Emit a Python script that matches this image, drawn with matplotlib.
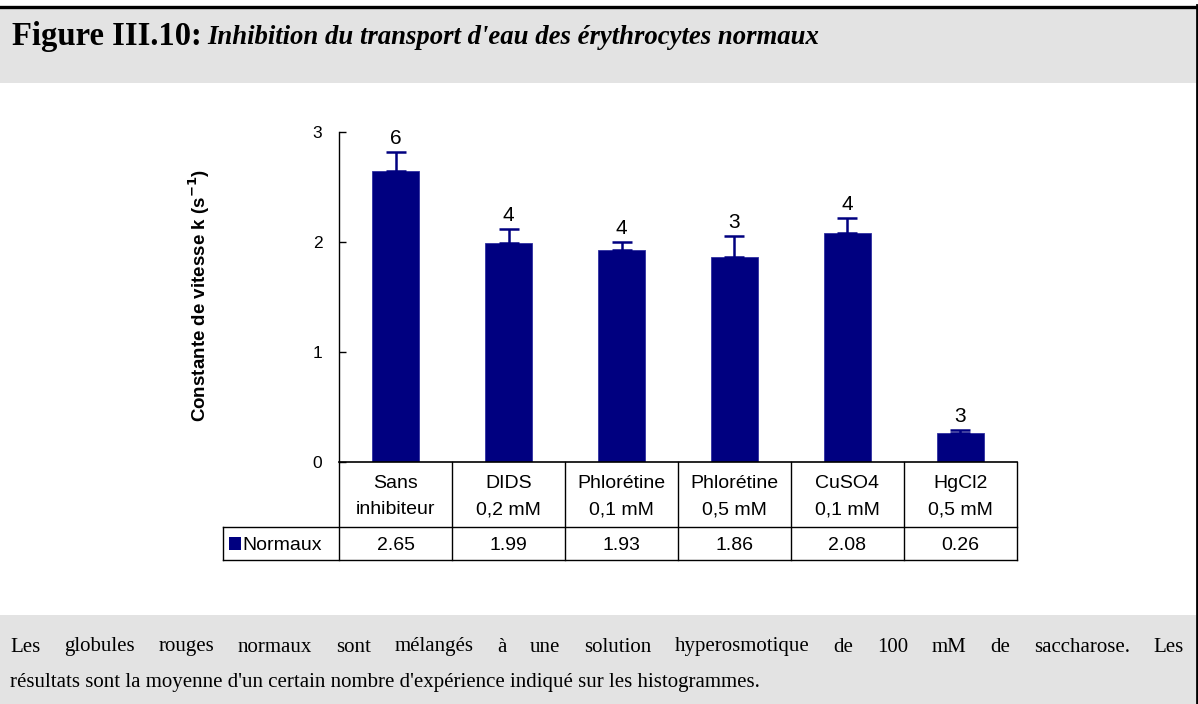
import matplotlib
matplotlib.use("Agg")
import matplotlib.pyplot as plt
from matplotlib.patches import Rectangle
from matplotlib.lines import Line2D

# ---- data ----
categories = ["Sans\ninhibiteur", "DIDS\n0,2 mM", "Phlorétine\n0,1 mM",
              "Phlorétine\n0,5 mM", "CuSO4\n0,1 mM", "HgCl2\n0,5 mM"]
values = [2.65, 1.99, 1.93, 1.86, 2.08, 0.26]
errors = [0.17, 0.13, 0.07, 0.19, 0.135, 0.03]
n_exp = [6, 4, 4, 3, 4, 3]
series_name = "Normaux"
yticks = [0, 1, 2, 3]

W, H = 1198, 704
NAVY = "#000080"
GRAY = "#e3e3e3"

fig = plt.figure(figsize=(W / 100, H / 100), dpi=100)
fig.patch.set_facecolor("white")

def fx(x):
    return x / W

def fy(y):
    return 1 - y / H

# ---- header / footer boxes ----
fig.add_artist(Rectangle((0, fy(83)), fx(1196), fy(8) - fy(83), transform=fig.transFigure,
                         facecolor=GRAY, edgecolor="none", zorder=0))
fig.add_artist(Rectangle((0, 0), fx(1196), fy(615), transform=fig.transFigure,
                         facecolor=GRAY, edgecolor="none", zorder=0))
fig.add_artist(Line2D([0, 1], [fy(6.5), fy(6.5)], transform=fig.transFigure, color="black", lw=2.4))
fig.add_artist(Line2D([fx(1196.5), fx(1196.5)], [0, fy(5)], transform=fig.transFigure, color="black", lw=2.0))

serif = ["Liberation Serif", "DejaVu Serif"]
sans = ["Liberation Sans", "DejaVu Sans"]

# ---- title ----
t1 = fig.text(fx(12), fy(37), "Figure III.10:", fontsize=23.5, fontweight="bold",
              family=serif, va="center", ha="left")
fig.canvas.draw()
r = fig.canvas.get_renderer()
bb = t1.get_window_extent(r)
fig.text((bb.x1 + 6) / W, fy(38), "Inhibition du transport d'eau des érythrocytes normaux",
         fontsize=19.3, fontweight="bold", style="italic", family=serif, va="center", ha="left")

# ---- main axes ----
ax_left, ax_right, ax_top, ax_bot = 339, 1017, 132, 462
ax = fig.add_axes([fx(ax_left), fy(ax_bot), fx(ax_right - ax_left), fy(ax_top) - fy(ax_bot)])
ax.set_facecolor("none")
x = list(range(len(values)))
ax.bar(x, values, width=0.42, color=NAVY, edgecolor="#3030a0", linewidth=0.6, zorder=2)
ax.errorbar(x, values, yerr=[[0] * len(errors), errors], fmt="none", ecolor=NAVY,
            elinewidth=1.8, capsize=7, capthick=1.8, zorder=3)
for xi, v, e, n in zip(x, values, errors, n_exp):
    ax.annotate(str(n), (xi, v + e), xytext=(0, 3), textcoords="offset points",
                ha="center", va="bottom", fontsize=15, family=sans)
ax.set_xlim(-0.5, len(values) - 0.5)
ax.set_ylim(0, 3)
ax.set_yticks(yticks)
ax.set_yticklabels([str(t) for t in yticks], fontsize=12.5, family=sans)
ax.tick_params(axis="y", direction="in", length=5, width=1, pad=12)
ax.set_xticks([])
for s in ["top", "right"]:
    ax.spines[s].set_visible(False)
ax.spines["left"].set_linewidth(1)
ax.spines["bottom"].set_linewidth(1.2)
ax.set_ylabel("Constante de vitesse k (s$^{\\mathbf{-1}}$)", fontsize=13.5, fontweight="bold",
              family=sans, labelpad=0)
ax.yaxis.set_label_coords((212 - ax_left) / (ax_right - ax_left), (ax_bot - 295) / (ax_bot - ax_top))

# ---- data table ----
tr = ax.get_xaxis_transform()
def ay(y):
    return (ax_bot - y) / (ax_bot - ax_top)

row1, row2 = 527, 560
cat_w = (ax_right - ax_left) / len(values)
legend_left_x = -0.5 - (ax_left - 223) / cat_w
lkw = dict(color="black", lw=1, transform=tr, clip_on=False)
for b in range(len(values) + 1):
    ax.add_line(Line2D([b - 0.5, b - 0.5], [ay(ax_bot), ay(row2)], **lkw))
ax.add_line(Line2D([legend_left_x, legend_left_x], [ay(row1), ay(row2)], **lkw))
ax.add_line(Line2D([legend_left_x, len(values) - 0.5], [ay(row1), ay(row1)], **lkw))
ax.add_line(Line2D([legend_left_x, len(values) - 0.5], [ay(row2), ay(row2)], **lkw))
for xi, cat, v in zip(x, categories, values):
    top, bottom = cat.split("\n")
    ax.text(xi, ay(484), top, transform=tr, ha="center", va="center", fontsize=14,
            family=sans, clip_on=False)
    ax.text(xi, ay(510), bottom, transform=tr, ha="center", va="center", fontsize=14,
            family=sans, clip_on=False)
    ax.text(xi, ay(546), f"{v:.2f}", transform=tr, ha="center", va="center", fontsize=14,
            family=sans, clip_on=False)
# legend key
ax.add_patch(Rectangle((legend_left_x + 6 / cat_w, ay(550)), 12 / cat_w, ay(537) - ay(550),
                       transform=tr, facecolor=NAVY, edgecolor="none", clip_on=False))
ax.text(legend_left_x + 19 / cat_w, ay(546), series_name, transform=tr, ha="left", va="center",
        fontsize=14, family=sans, clip_on=False)

# ---- footer text (justified first line) ----
line1 = "Les globules rouges normaux sont mélangés à une solution hyperosmotique de 100 mM de saccharose. Les"
line2 = "résultats sont la moyenne d'un certain nombre d'expérience indiqué sur les histogrammes."
fs_footer = 15.0
words = line1.split(" ")
fig.canvas.draw()
r = fig.canvas.get_renderer()
tmp = [fig.text(0, 0, w, fontsize=fs_footer, family=serif) for w in words]
widths = [t.get_window_extent(r).width for t in tmp]
for t in tmp:
    t.remove()
x_start, x_end = 10, 1184
gap = (x_end - x_start - sum(widths)) / (len(words) - 1)
cx = x_start
for w, wd in zip(words, widths):
    fig.text(fx(cx), fy(647), w, fontsize=fs_footer, family=serif, va="center", ha="left")
    cx += wd + gap
fig.text(fx(x_start), fy(683), line2, fontsize=fs_footer, family=serif, va="center", ha="left")

fig.savefig("out.png", dpi=100, facecolor="white")
